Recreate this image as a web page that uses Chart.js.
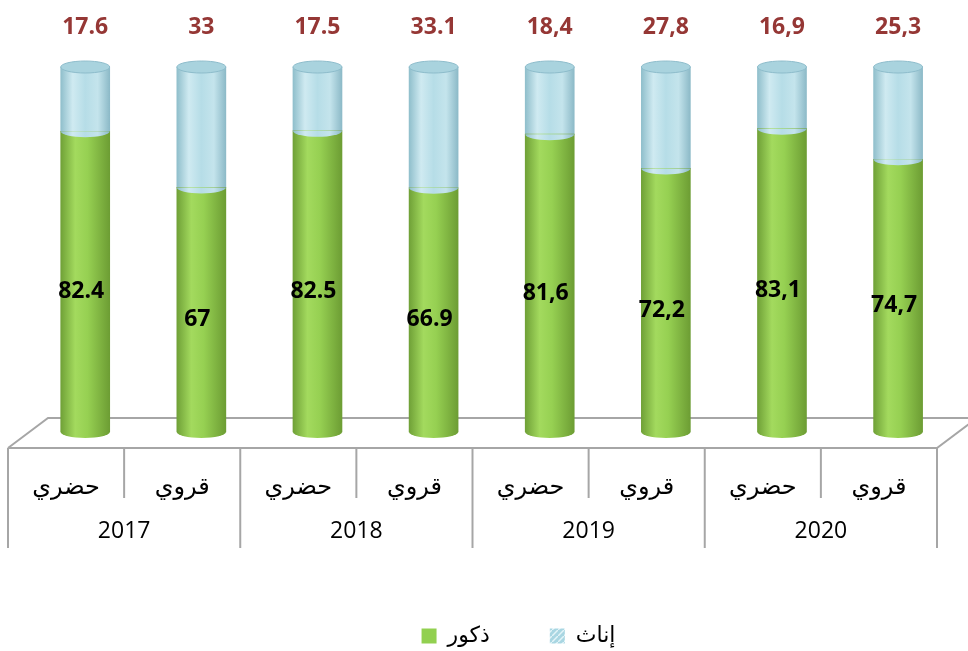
<!DOCTYPE html>
<html>
<head>
<meta charset="utf-8">
<script src="https://cdn.jsdelivr.net/npm/chart.js@4.4.0/dist/chart.umd.min.js"></script>
<style>
  html, body { margin: 0; padding: 0; background: #fff; }
  #wrap { width: 968px; height: 651px; }
</style>
</head>
<body>
<div id="wrap"><canvas id="chart"></canvas></div>
<script>
// categories
const areas = ['حضري', 'قروي', 'حضري', 'قروي', 'حضري', 'قروي', 'حضري', 'قروي'];
const years = ['2017', '2018', '2019', '2020'];
// series (%)
const males = [82.4, 67, 82.5, 66.9, 81.6, 72.2, 83.1, 74.7];
const females = [17.6, 33, 17.5, 33.1, 18.4, 27.8, 16.9, 25.3];
// decimal mark used in each year's labels
const decimalMarks = ['.', '.', ',', ','];

function fmt(v, i) {
    return String(v).replace('.', decimalMarks[Math.floor(i / 2)]);
}

// cylinder shading
function cylinder(ctx, kind) {
    const chart = ctx.chart;
    const xs = chart.scales.x;
    if (!xs || ctx.dataIndex === undefined || !chart.chartArea) {
        return kind === 'green' ? '#92d050' : '#b7dde8';
    }
    const cx = xs.getPixelForValue(ctx.dataIndex);
    const g = chart.ctx.createLinearGradient(cx - 25, 0, cx + 25, 0);
    if (kind === 'green') {
        g.addColorStop(0, '#6e9f36');
        g.addColorStop(0.3, '#a3da5e');
        g.addColorStop(0.55, '#96d052');
        g.addColorStop(1, '#6c9c33');
    } else {
        g.addColorStop(0, '#8dbdca');
        g.addColorStop(0.25, '#cfeaf1');
        g.addColorStop(0.5, '#b6dde7');
        g.addColorStop(0.75, '#c4e4ec');
        g.addColorStop(1, '#8ab8c6');
    }
    return g;
}

function hatch() {
    const c = document.createElement('canvas');
    c.width = 6; c.height = 6;
    const x = c.getContext('2d');
    x.fillStyle = '#a9d6e2';
    x.fillRect(0, 0, 6, 6);
    x.strokeStyle = '#e3f4f8';
    x.lineWidth = 1.5;
    x.beginPath(); x.moveTo(0, 6); x.lineTo(6, 0); x.stroke();
    return x.createPattern(c, 'repeat');
}

const floorPlugin = {
    id: 'floor',
    afterLayout(chart) {
        // legend sits right of centre and a little lower in the source
        const lg = chart.legend;
        lg.left += 46; lg.right += 46;
        lg.top += 6; lg.bottom += 6;
    },
    beforeDatasetsDraw(chart) {
        const { ctx, chartArea: a } = chart;
        const fy = a.bottom, by = a.bottom - 30, d = 40;
        ctx.save();
        ctx.strokeStyle = '#a6a6a6';
        ctx.lineWidth = 2;
        ctx.beginPath();
        ctx.moveTo(a.left, fy);
        ctx.lineTo(a.left + d, by);
        ctx.lineTo(a.right + d, by);
        ctx.moveTo(a.left, fy);
        ctx.lineTo(a.right, fy);
        ctx.lineTo(a.right + d, by);
        ctx.stroke();
        ctx.restore();
    },
    afterDraw(chart) {
        const { ctx, chartArea: a } = chart;
        const sub = chart.scales.x2, yr = chart.scales.x3;
        const w = (a.right - a.left) / areas.length;
        ctx.save();
        ctx.strokeStyle = '#a6a6a6';
        ctx.lineWidth = 2;
        for (let i = 0; i <= areas.length; i++) {
            const x = a.left + i * w;
            ctx.beginPath();
            ctx.moveTo(x, a.bottom);
            ctx.lineTo(x, i % 2 === 0 ? yr.bottom - 11 : sub.bottom - 4);
            ctx.stroke();
        }
        ctx.restore();
    }
};

const capsPlugin = {
    id: 'caps',
    afterDatasetsDraw(chart) {
        const ctx = chart.ctx;
        const m0 = chart.getDatasetMeta(0), m1 = chart.getDatasetMeta(1);
        const top = chart.scales.y.getPixelForValue(100);
        ctx.save();
        m0.data.forEach(bar => {
            const p = bar.getProps(['x', 'base', 'width'], true);
            ctx.fillStyle = bar.options.backgroundColor;
            ctx.beginPath();
            ctx.ellipse(p.x, p.base, p.width / 2, 6, 0, 0, Math.PI);
            ctx.fill();
        });
        m1.data.forEach(bar => {
            const p = bar.getProps(['x', 'y', 'base', 'width'], true);
            ctx.fillStyle = bar.options.backgroundColor;
            ctx.beginPath();
            ctx.ellipse(p.x, p.base, p.width / 2, 6, 0, 0, Math.PI);
            ctx.fill();
            ctx.beginPath();
            ctx.ellipse(p.x, p.y, p.width / 2, 6, 0, 0, Math.PI * 2);
            ctx.fillStyle = '#a9d3de';
            ctx.fill();
            ctx.strokeStyle = '#8dbccb';
            ctx.lineWidth = 1;
            ctx.stroke();
        });
        // value labels
        ctx.font = 'bold 23px "Open Sans"';
        ctx.textAlign = 'center';
        ctx.textBaseline = 'middle';
        m1.data.forEach((bar, i) => {
            ctx.fillStyle = '#953735';
            ctx.fillText(fmt(females[i], i), bar.x, top - 40);
        });
        m0.data.forEach((bar, i) => {
            ctx.fillStyle = '#000';
            ctx.fillText(fmt(males[i], i), bar.x - 4, (bar.y + bar.base) / 2 + 10);
        });
        ctx.restore();
    }
};

const blueHatch = hatch();

new Chart(document.getElementById('chart'), {
    type: 'bar',
    data: {
        datasets: [
            {
                label: 'ذكور',
                data: males.map((v, i) => ({ x: i, y: v })),
                backgroundColor: ctx => cylinder(ctx, 'green'),
                borderWidth: 0,
                barThickness: 49,
                stack: 's'
            },
            {
                label: 'إناث',
                data: females.map((v, i) => ({ x: i, y: v })),
                backgroundColor: ctx => cylinder(ctx, 'blue'),
                borderWidth: 0,
                barThickness: 49,
                stack: 's'
            }
        ]
    },
    options: {
        responsive: true,
        maintainAspectRatio: false,
        animation: false,
        layout: { padding: { top: 67, left: 8, right: 31, bottom: 0 } },
        scales: {
            x: { type: 'linear', min: -0.665, max: 7.335, offset: false, stacked: true, display: false },
            y: { stacked: true, min: -4.4, max: 100, display: false },
            x2: {
                type: 'category',
                position: 'bottom',
                labels: areas,
                offset: true,
                grid: { display: false, drawTicks: false },
                border: { display: false },
                ticks: { color: '#000', padding: 25, font: { family: 'DejaVu Sans', size: 24 } },
                afterFit(scale) { scale.height = 54; }
            },
            x3: {
                type: 'category',
                position: 'bottom',
                labels: years,
                offset: true,
                grid: { display: false, drawTicks: false },
                border: { display: false },
                ticks: { color: '#000', padding: 16, font: { family: 'Open Sans', size: 23 } },
                afterFit(scale) { scale.height = 57; }
            }
        },
        plugins: {
            tooltip: { enabled: false },
            legend: {
                position: 'bottom',
                labels: {
                    boxWidth: 15,
                    boxHeight: 15,
                    padding: 60,
                    color: '#000',
                    font: { family: 'DejaVu Sans', size: 22 },
                    generateLabels(chart) {
                        const items = Chart.defaults.plugins.legend.labels.generateLabels(chart);
                        items[0].fillStyle = '#92d050';
                        items[1].fillStyle = blueHatch;
                        items.forEach(it => { it.strokeStyle = 'transparent'; it.lineWidth = 0; });
                        return items;
                    }
                }
            }
        }
    },
    plugins: [floorPlugin, capsPlugin]
});
</script>
</body>
</html>
